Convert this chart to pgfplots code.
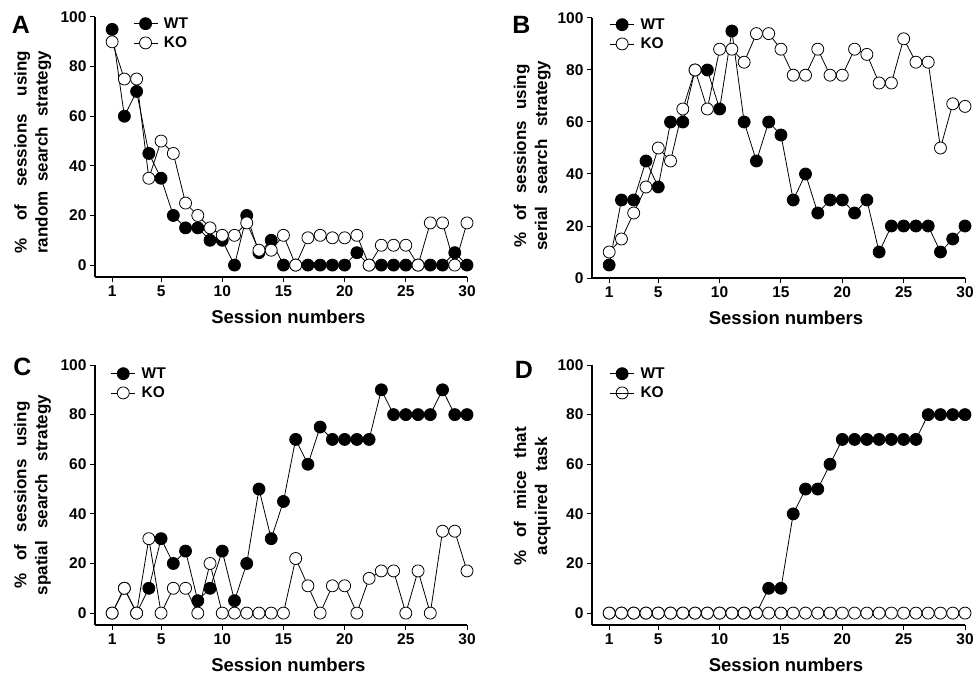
\documentclass[border=0pt]{standalone}
\usepackage{fontspec}
\setmainfont{Liberation Sans}
\usepackage{pgfplots}
\usepackage{pgfplotstable}
\pgfplotsset{compat=1.18}

% session, WT, KO  (% of sessions / mice)
\pgfplotstableread{
s  wt  ko
1  95  90
2  60  75
3  70  75
4  45  35
5  35  50
6  20  45
7  15  25
8  15  20
9  10  15
10 10  12
11 0   12
12 20  17
13 5   6
14 10  6
15 0   12
16 0   0
17 0   11
18 0   12
19 0   11
20 0   11
21 5   12
22 0   0
23 0   8
24 0   8
25 0   8
26 0   0
27 0   17
28 0   17
29 5   0
30 0   17
}\random

\pgfplotstableread{
s  wt  ko
1  5   10
2  30  15
3  30  25
4  45  35
5  35  50
6  60  45
7  60  65
8  80  80
9  80  65
10 65  88
11 95  88
12 60  83
13 45  94
14 60  94
15 55  88
16 30  78
17 40  78
18 25  88
19 30  78
20 30  78
21 25  88
22 30  86
23 10  75
24 20  75
25 20  92
26 20  83
27 20  83
28 10  50
29 15  67
30 20  66
}\serial

\pgfplotstableread{
s  wt  ko
1  0   0
2  10  10
3  0   0
4  10  30
5  30  0
6  20  10
7  25  10
8  5   0
9  10  20
10 25  0
11 5   0
12 20  0
13 50  0
14 30  0
15 45  0
16 70  22
17 60  11
18 75  0
19 70  11
20 70  11
21 70  0
22 70  14
23 90  17
24 80  17
25 80  0
26 80  17
27 80  0
28 90  33
29 80  33
30 80  17
}\spatial

\pgfplotstableread{
s  wt  ko
1  0   0
2  0   0
3  0   0
4  0   0
5  0   0
6  0   0
7  0   0
8  0   0
9  0   0
10 0   0
11 0   0
12 0   0
13 0   0
14 10  0
15 10  0
16 40  0
17 50  0
18 50  0
19 60  0
20 70  0
21 70  0
22 70  0
23 70  0
24 70  0
25 70  0
26 70  0
27 80  0
28 80  0
29 80  0
30 80  0
}\acquired

\pgfplotsset{
  panel/.style={
    scale only axis, width=372pt, height=260pt,
    anchor=south west,
    xmin=-0.4, xmax=30, ymax=100,
    axis x line*=bottom, axis y line*=left,
    axis line style={line width=1.2pt},
    tick align=outside, major tick length=5pt,
    tick style={line width=1pt, black},
    xtick={1,5,10,15,20,25,30}, ytick={0,20,...,100},
    /pgf/number format/assume math mode=true,
    ticklabel style={font=\bfseries\fontsize{15.5}{15.5}\selectfont},
    xlabel={Session numbers},
    xlabel style={font=\bfseries\fontsize{18.5}{18.5}\selectfont,
      at={(axis description cs:0.52,0)}, anchor=center, yshift=-40pt},
    ylabel style={font=\bfseries\fontsize{17}{21}\selectfont, align=center, anchor=center},
    legend style={draw=none, fill=none, anchor=north west,
      font=\bfseries\fontsize{15.5}{15.5}\selectfont,
      nodes={inner sep=3pt}, row sep=1pt,
      /tikz/every odd column/.append style={column sep=3pt}},
    legend cell align=left,
    legend image code/.code={\draw[mark repeat=2,mark phase=2,##1]
      plot coordinates {(0pt,0pt) (12pt,0pt) (24pt,0pt)};},
    clip=false,
  },
  wt/.style={black, line width=0.8pt, mark=*, mark size=6pt, mark options={fill=black}},
  ko/.style={black, line width=0.8pt, mark=*, mark size=6pt, mark options={fill=white}},
  kothru/.style={legend image code/.code={\draw[mark repeat=2,mark phase=2,##1]
      plot coordinates {(0pt,0pt) (12pt,0pt) (24pt,0pt)};
      \draw[black, line width=0.8pt] (0pt,0pt) -- (24pt,0pt);}},
}

\begin{document}
\begin{tikzpicture}
\useasboundingbox (0pt,0pt) rectangle (973pt,681pt);

% A
\begin{axis}[panel, at={(95pt,404pt)}, ymin=-4.8,
  ylabel={\makebox[203pt][s]{\% of sessions using}\\\makebox[203pt][s]{random search strategy}},
  ylabel style={at={(axis description cs:-0.167,0.48)}},
  legend style={at={(axis description cs:0.094,1)}, yshift=4.6pt}]
\addplot[wt] table[x=s,y=wt] {\random};
\addplot[ko] table[x=s,y=ko] {\random};
\legend{WT, KO}
\end{axis}

% B
\begin{axis}[panel, at={(592pt,403pt)}, width=373pt, ymin=0,
  ylabel={\makebox[183pt][s]{\% of sessions using}\\\makebox[190pt][s]{serial search strategy}},
  ylabel style={at={(axis description cs:-0.16,0.47)}},
  legend style={at={(axis description cs:0.039,1)}, yshift=4.6pt}]
\addplot[wt] table[x=s,y=wt] {\serial};
\addplot[ko] table[x=s,y=ko] {\serial};
\legend{WT, KO}
\end{axis}

% C
\begin{axis}[panel, at={(95pt,56pt)}, ymin=-4.8,
  ylabel={\makebox[187pt][s]{\% of sessions using}\\\makebox[200pt][s]{spatial search strategy}},
  ylabel style={at={(axis description cs:-0.168,0.5)}},
  legend style={at={(axis description cs:0.034,1)}, yshift=2.6pt}]
\addplot[wt] table[x=s,y=wt] {\spatial};
\addplot[ko] table[x=s,y=ko] {\spatial};
\legend{WT, KO}
\end{axis}

% D
\begin{axis}[panel, at={(592pt,56pt)}, width=373pt, ymin=-4.8,
  ylabel={\makebox[138pt][s]{\% of mice that}\\\makebox[118pt][s]{acquired task}},
  ylabel style={at={(axis description cs:-0.16,0.495)}},
  legend style={at={(axis description cs:0.039,1)}, yshift=2.6pt}]
\addplot[wt] table[x=s,y=wt] {\acquired};
\addplot[ko, kothru] table[x=s,y=ko] {\acquired};
\addplot[black, line width=0.8pt, forget plot] table[x=s,y=ko] {\acquired};
\legend{WT, KO}
\end{axis}

\node[font=\bfseries\fontsize{25}{25}\selectfont] at (21pt,656.5pt) {A};
\node[font=\bfseries\fontsize{25}{25}\selectfont] at (521.5pt,656.5pt) {B};
\node[font=\bfseries\fontsize{25}{25}\selectfont] at (22.5pt,314.5pt) {C};
\node[font=\bfseries\fontsize{25}{25}\selectfont] at (524pt,311.5pt) {D};
\end{tikzpicture}
\end{document}
